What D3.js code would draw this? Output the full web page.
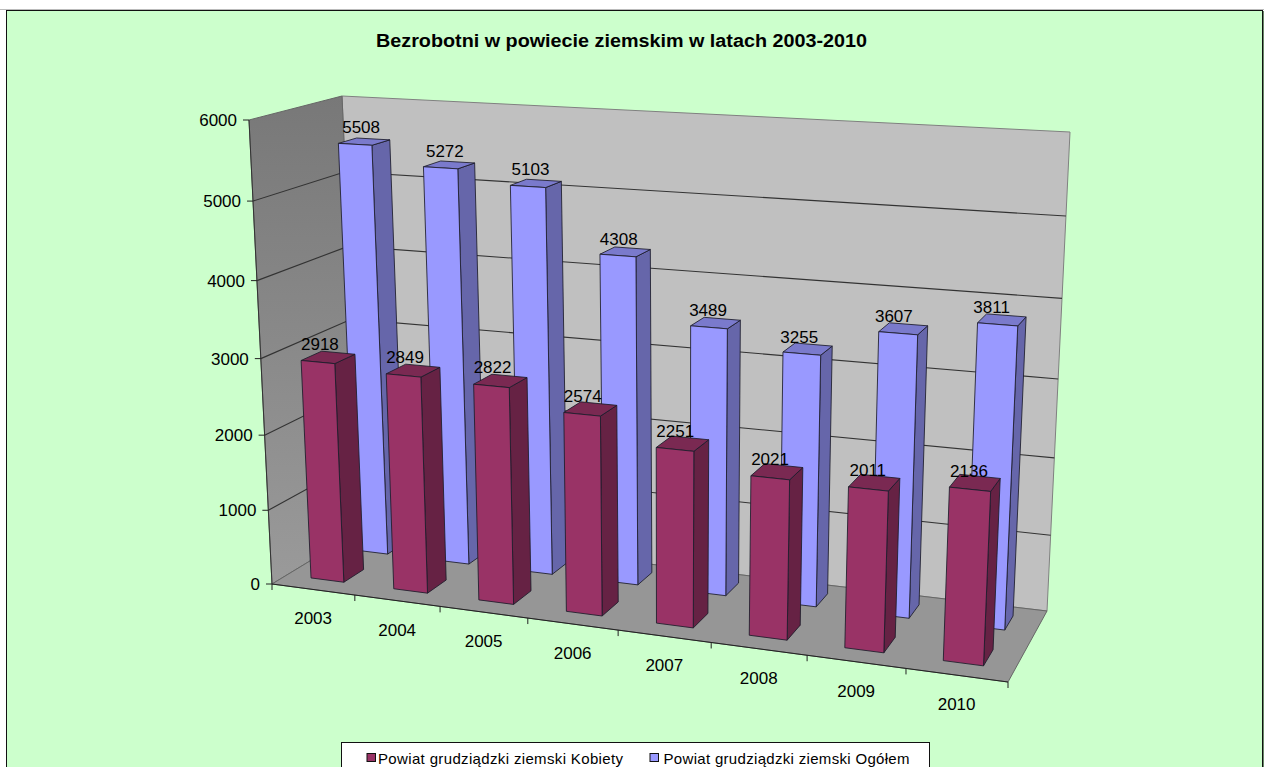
<!DOCTYPE html>
<html><head><meta charset="utf-8">
<script src="https://cdn.jsdelivr.net/npm/d3@7"></script>
<style>html,body{margin:0;padding:0;background:#fff;overflow:hidden}svg{display:block}text{font-family:"Liberation Sans",Arial,sans-serif;fill:#000}</style>
</head><body><svg id="c" width="1264" height="767"></svg>
<script>
const years = ["2003","2004","2005","2006","2007","2008","2009","2010"];
const kobiety = [2918,2849,2822,2574,2251,2021,2011,2136];
const ogolem = [5508,5272,5103,4308,3489,3255,3607,3811];
const valueTicks = [0,1000,2000,3000,4000,5000,6000];
const titleText = "Bezrobotni w powiecie ziemskim w latach 2003-2010";
const seriesNames = ["Powiat grudziądzki ziemski Kobiety","Powiat grudziądzki ziemski Ogółem"];

// projection frame of the 3-D box (screen corners)
const frontQuad = [[272,584],[1008,682],[1031,162],[249,120]];
const backQuad  = [[361,530],[1047,611],[1070,132],[342,96]];

function homography(q){
  const [p0,p1,p2,p3]=q; // (0,0),(1,0),(1,1),(0,1)
  const dx1=p1[0]-p2[0],dx2=p3[0]-p2[0],sx=p0[0]-p1[0]+p2[0]-p3[0];
  const dy1=p1[1]-p2[1],dy2=p3[1]-p2[1],sy=p0[1]-p1[1]+p2[1]-p3[1];
  const det=dx1*dy2-dx2*dy1;
  const g=(sx*dy2-dx2*sy)/det,h=(dx1*sy-sx*dy1)/det;
  const a=p1[0]-p0[0]+g*p1[0],b=p3[0]-p0[0]+h*p3[0],c=p0[0];
  const d=p1[1]-p0[1]+g*p1[1],e=p3[1]-p0[1]+h*p3[1],f=p0[1];
  return (u,v)=>{const w=g*u+h*v+1;return [(a*u+b*v+c)/w,(d*u+e*v+f)/w];};
}
const Hf=homography(frontQuad),Hb=homography(backQuad);
const P=(u,v,w)=>{const A=Hf(u,v),B=Hb(u,v);return [A[0]+(B[0]-A[0])*w,A[1]+(B[1]-A[1])*w];};

const xBand=d3.scaleBand().domain(years).range([0,1]).paddingInner(0.6).paddingOuter(0.3).align(0.49);
const xStep=d3.scaleBand().domain(years).range([0,1]);
const yVal=d3.scaleLinear().domain([0,6000]).range([0,1]);
const zExtent={k:[0.17,0.40],o:[0.68,0.88]};

const svg=d3.select("#c");
const poly=pts=>"M"+pts.map(p=>p[0].toFixed(2)+","+p[1].toFixed(2)).join("L")+"Z";
const line=(a,b)=>"M"+a[0]+","+a[1]+"L"+b[0]+","+b[1];

// frame
svg.append("rect").attr("x",0).attr("y",9).attr("width",1264).attr("height",1).attr("fill","#bbb");
svg.append("rect").attr("x",6.5).attr("y",10.5).attr("width",1256).attr("height",770).attr("fill","#ccffcc").attr("stroke","#111").attr("stroke-width",1);
svg.append("rect").attr("x",1263).attr("y",11).attr("width",1).attr("height",756).attr("fill","#6a8a6a");

svg.append("text").attr("x",376).attr("y",47).attr("font-size",18.8).attr("font-weight","bold")
  .attr("textLength",491).attr("lengthAdjust","spacingAndGlyphs").text(titleText);

const defs=svg.append("defs");
const gr=defs.append("linearGradient").attr("id","lw").attr("x1",0).attr("y1",0).attr("x2",0).attr("y2",1);
gr.append("stop").attr("offset","0").attr("stop-color","#787878");
gr.append("stop").attr("offset","1").attr("stop-color","#9a9a9a");

// walls
svg.append("path").attr("d",poly([P(0,0,1),P(1,0,1),P(1,1,1),P(0,1,1)])).attr("fill","#c0c0c0").attr("stroke","#808080");
svg.append("path").attr("d",poly([P(0,0,0),P(0,0,1),P(0,1,1),P(0,1,0)])).attr("fill","url(#lw)").attr("stroke","#666");
svg.append("path").attr("d",poly([P(0,0,0),P(1,0,0),P(1,0,1),P(0,0,1)])).attr("fill","#969696").attr("stroke","#666");
svg.append("path").attr("d",line(P(0,0,0),P(1,0,0))).attr("stroke","#222").attr("fill","none");
svg.append("path").attr("d",line(P(0,0,0),P(0,1,0))).attr("stroke","#333").attr("fill","none");

// grid
const grid=svg.append("g").attr("fill","none").attr("stroke","#333").attr("stroke-width",1.1);
valueTicks.filter(t=>t>0&&t<6000).forEach(t=>{
  const v=yVal(t);
  grid.append("path").attr("d",line(P(0,v,0),P(0,v,1))+"L"+P(1,v,1)[0]+","+P(1,v,1)[1]);
});

// ticks
valueTicks.forEach(t=>{
  const p=P(0,yVal(t),0);
  svg.append("path").attr("d",line([p[0]-6,p[1]],p)).attr("stroke","#222").attr("fill","none");
  svg.append("text").attr("x",p[0]-12).attr("y",p[1]+6).attr("text-anchor","end").attr("font-size",17).text(t);
});
years.forEach((y,i)=>{
  const p=P(xStep(y),0,0);
  svg.append("path").attr("d",line(p,[p[0],p[1]+6])).attr("stroke","#222").attr("fill","none");
  const c=P(xStep(y)+xStep.bandwidth()/2,0,0);
  svg.append("text").attr("x",c[0]).attr("y",c[1]+35).attr("text-anchor","middle").attr("font-size",17).text(y);
});
const last=P(1,0,0);
svg.append("path").attr("d",line(last,[last[0],last[1]+6])).attr("stroke","#222").attr("fill","none");

// bars
function bars(values,key,colors){
  const [z0,z1]=zExtent[key];
  const g=svg.append("g").attr("stroke","#1c1c2a").attr("stroke-width",1).attr("stroke-linejoin","round").attr("stroke-opacity",0.85);
  years.forEach((y,i)=>{
    const a=xBand(y),b=a+xBand.bandwidth(),v=yVal(values[i]);
    g.append("path").attr("fill",colors[2]).attr("d",poly([P(b,0,z0),P(b,0,z1),P(b,v,z1),P(b,v,z0)]));
    g.append("path").attr("fill",colors[1]).attr("d",poly([P(a,v,z0),P(b,v,z0),P(b,v,z1),P(a,v,z1)]));
    g.append("path").attr("fill",colors[0]).attr("d",poly([P(a,0,z0),P(b,0,z0),P(b,v,z0),P(a,v,z0)]));
  });
}
bars(ogolem,"o",["#9999ff","#7a7acc","#6666aa"]);
bars(kobiety,"k",["#993366","#7a2952","#662244"]);

// value labels
function labels(values,key){
  const [z0]=zExtent[key];
  years.forEach((y,i)=>{
    const t=P(xBand(y)+xBand.bandwidth()/2,yVal(values[i]),z0);
    const dx=key==="o"?6-12*i/7:2-3*i/7;
    svg.append("text").attr("x",t[0]+dx).attr("y",t[1]+(key==="o"?-11:-12.5)).attr("text-anchor","middle").attr("font-size",17).text(values[i]);
  });
}
labels(ogolem,"o");labels(kobiety,"k");

// legend
svg.append("rect").attr("x",341.5).attr("y",742.5).attr("width",588).attr("height",40).attr("fill","#fff").attr("stroke","#111");
[[367,378],[650,663.5]].forEach((pos,i)=>{
  svg.append("rect").attr("x",pos[0]).attr("y",753.5).attr("width",8.5).attr("height",8).attr("fill",i?"#9999ff":"#993366").attr("stroke","#111");
  svg.append("text").attr("x",pos[1]).attr("y",764).attr("font-size",15).attr("textLength",i?246:245).attr("lengthAdjust","spacing").text(seriesNames[i]);
});
</script></body></html>
